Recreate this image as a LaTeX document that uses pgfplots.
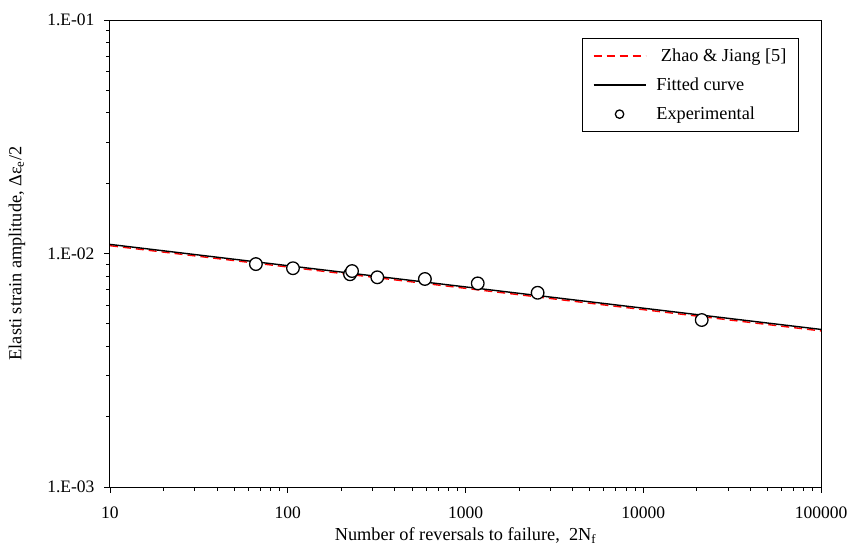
\documentclass[border=0pt]{standalone}
\usepackage{pgfplots}
\pgfplotsset{compat=1.18}
\usepackage{fontspec}
\setmainfont{Liberation Serif}
\newcommand{\ff}{\fontsize{17.5bp}{20bp}\selectfont}
\newcommand{\fl}{\fontsize{18.3bp}{21bp}\selectfont}
\definecolor{zred}{RGB}{255,0,0}
\pgfplotsset{
  leglinered/.style={legend image code/.code={\draw[##1, color=zred, draw=zred, line width=1.6bp] (0bp,0bp) -- (52bp,0bp);}},
  leglineblack/.style={legend image code/.code={\draw[##1, draw=black, line width=1.6bp] (0bp,0bp) -- (52bp,0bp);}},
  legmark/.style={legend image code/.code={\draw[##1, mark size=4.2bp] plot coordinates {(26bp,0bp)};}},
}
\begin{document}
\begin{tikzpicture}
\begin{axis}[
  scale only axis,
  width=711bp, height=467bp,
  xmode=log, ymode=log,
  xmin=10, xmax=100000, ymin=0.001, ymax=0.1,
  xtick={10,100,1000,10000,100000},
  xticklabels={10,100,1000,10000,100000},
  ytick={0.001,0.01,0.1},
  yticklabels={1.E-03,1.E-02,1.E-01},
  tick pos=left,
  tick align=outside,
  major tick length=6bp,
  minor tick length=4bp,
  every tick/.style={black, line width=0.9bp},
  axis line style={black, line width=1bp},
  tick label style={font=\ff},
  xticklabel style={yshift=-10bp},
  yticklabel style={xshift=-6bp},
  every axis y label/.style={at={(axis description cs:-0.131,0.5)}, rotate=90, anchor=center, font=\fl},
  every axis x label/.style={at={(axis description cs:0.5,-0.103)}, anchor=center, font=\fl},
  xlabel={Number of reversals to failure, \ 2N\textsubscript{f}},
  ylabel={Elasti strain amplitude, Δε\textsubscript{e}/2},
  legend style={at={(0.969,0.961)}, anchor=north east, draw=black, line width=1bp,
    font=\fl, row sep=11bp, inner xsep=10bp, inner ysep=8bp,
    /tikz/every odd column/.append style={column sep=8bp}},
  legend cell align=left,
  clip=true,
]
\addplot[draw=zred, line width=1.4bp, dash pattern=on 8bp off 5bp, leglinered]
  coordinates {(10,0.01080) (100000,0.00466)};
\addlegendentry{\ Zhao \& Jiang [5]}
\addplot[draw=black, line width=1.4bp, leglineblack]
  coordinates {(10,0.01094) (100000,0.00473)};
\addlegendentry{Fitted curve}
\addplot[only marks, mark=*, mark size=6.3bp,
  mark options={fill=white, draw=black, line width=1.3bp}, legmark]
  coordinates {
  (66.2,0.00901)
  (107,0.00865)
  (224,0.00815)
  (230,0.00841)
  (319,0.00791)
  (591,0.00778)
  (1172,0.00745)
  (2546,0.00679)
  (21330,0.00519)
  };
\addlegendentry{Experimental}
\end{axis}
\pgfresetboundingbox
\path[use as bounding box] ([shift={(-110bp,-59bp)}]current axis.south west) rectangle ([shift={(29bp,20bp)}]current axis.north east);
\end{tikzpicture}
\end{document}
